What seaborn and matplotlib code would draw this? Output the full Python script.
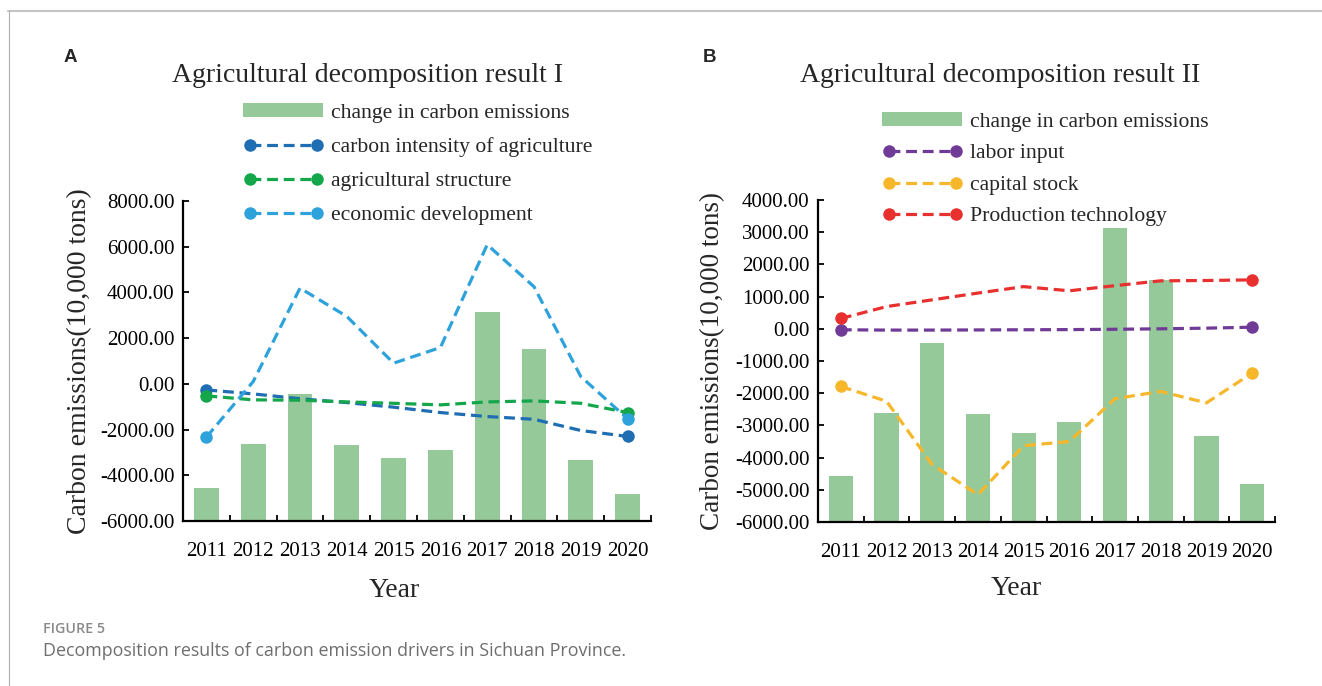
import matplotlib
matplotlib.use("Agg")
import numpy as np
import pandas as pd
import matplotlib.pyplot as plt
from matplotlib.lines import Line2D
from matplotlib.ticker import MultipleLocator, StrMethodFormatter, FixedLocator
import seaborn as sns

# ---- data (10,000 tons) ----
years = ["2011", "2012", "2013", "2014", "2015", "2016", "2017", "2018", "2019", "2020"]
change_in_emissions = [-4560, -2630, -445, -2660, -3245, -2900, 3145, 1510, -3320, -4815]

carbon_intensity = [-265, -440, -650, -820, -1020, -1255, -1430, -1550, -2040, -2300]
agri_structure = [-525, -700, -715, -790, -850, -920, -790, -745, -850, -1255]
economic_dev = [-2330, 100, 4190, 2950, 905, 1590, 6090, 4250, 320, -1530]

labor_input = [-30, -40, -40, -35, -30, -25, -15, 0, 20, 50]
capital_stock = [-1790, -2250, -4220, -5150, -3630, -3500, -2170, -1945, -2300, -1375]
production_tech = [320, 690, 900, 1110, 1310, 1180, 1340, 1490, 1500, 1520]

bar_label = "change in carbon emissions"
panel_a_lines = [
    ("carbon intensity of agriculture", carbon_intensity, "#1f6db3"),
    ("agricultural structure", agri_structure, "#13a64b"),
    ("economic development", economic_dev, "#2ea2da"),
]
panel_b_lines = [
    ("labor input", labor_input, "#703a97"),
    ("capital stock", capital_stock, "#f6b72b"),
    ("Production technology", production_tech, "#e8302f"),
]

BAR_COLOR = "#96c99a"
SERIF = "Liberation Serif"

sns.set_theme(style="white")
plt.rcParams["font.family"] = [SERIF, "DejaVu Serif"]
plt.rcParams["axes.edgecolor"] = "black"
plt.rcParams["axes.unicode_minus"] = False
plt.rcParams["xtick.color"] = "black"
plt.rcParams["ytick.color"] = "black"

fig = plt.figure(figsize=(13.22, 6.86), dpi=100)
ax_a = fig.add_axes([183 / 1322, 1 - 521 / 686, 468 / 1322, 320 / 686])
ax_b = fig.add_axes([818 / 1322, 1 - 522 / 686, 457 / 1322, 322 / 686])


def draw_panel(ax, floor, top, step, lines, legend_anchor, labelspacing,
               ylabel_x, xlabel_xy, ylabel_size):
    # bars rise from the bottom of the value axis
    df = pd.DataFrame({"year": years, "value": change_in_emissions})
    df["height"] = df["value"] - floor
    sns.barplot(data=df, x="year", y="height", bottom=floor, color=BAR_COLOR,
                width=0.53, linewidth=0, saturation=1, errorbar=None,
                label=bar_label, ax=ax)
    for name, vals, color in lines:
        ldf = pd.DataFrame({"year": years, "value": vals})
        sns.lineplot(data=ldf, x="year", y="value", color=color, lw=2.3,
                     linestyle=(0, (3.4, 1.8)), marker="o", markersize=9,
                     markeredgewidth=0, markevery=[0, -1], label=name,
                     ax=ax, legend=False)

    ax.set_ylim(floor, top)
    ax.set_xlim(-0.5, len(years) - 0.5)
    ax.yaxis.set_major_locator(MultipleLocator(step))
    ax.yaxis.set_major_formatter(StrMethodFormatter("{x:.2f}"))
    ax.xaxis.set_minor_locator(FixedLocator(np.arange(-0.5, len(years), 1.0)))

    for side in ("top", "right"):
        ax.spines[side].set_visible(False)
    for side in ("left", "bottom"):
        ax.spines[side].set_linewidth(1.6)
        ax.spines[side].set_color("black")

    ax.tick_params(axis="y", which="major", direction="in", length=4.5, width=1.3,
                   pad=6, labelsize=15, left=True)
    ax.tick_params(axis="x", which="major", length=0, pad=15, labelsize=15,
                   bottom=True)
    ax.tick_params(axis="x", which="minor", direction="in", length=4.5,
                   width=1.3, bottom=True)

    ax.set_ylabel("Carbon emissions(10,000 tons)", fontsize=ylabel_size)
    ax.yaxis.label.set_va("center")
    ax.yaxis.set_label_coords(ylabel_x, 0.5)
    ax.set_xlabel("Year", fontsize=20)
    ax.xaxis.label.set_va("center")
    ax.xaxis.set_label_coords(*xlabel_xy)

    handles, labels = ax.get_legend_handles_labels()
    lookup = dict(zip(labels, handles))
    order = [bar_label] + [name for name, _, _ in lines]
    ax.legend([lookup[k] for k in order], order, loc="upper left",
              bbox_to_anchor=legend_anchor, bbox_transform=fig.transFigure,
              frameon=False, fontsize=15.6, borderpad=0, borderaxespad=0,
              handlelength=3.7, handleheight=0.55, handletextpad=0.35,
              numpoints=2, labelspacing=labelspacing)


draw_panel(ax_a, -6000, 8000, 2000, panel_a_lines,
           (243 / 1322, 1 - 103.5 / 686), 0.68, -0.220, (0.452, -0.216), 20)
draw_panel(ax_b, -6000, 4000, 1000, panel_b_lines,
           (882 / 1322, 1 - 112.5 / 686), 0.57, -0.231, (0.433, -0.205), 19.5)

# titles and panel letters
fig.text(367 / 1322, 1 - 76 / 686, "Agricultural decomposition result I",
         fontsize=20, ha="center", va="center")
fig.text(1000 / 1322, 1 - 76 / 686, "Agricultural decomposition result II",
         fontsize=20, ha="center", va="center")
fig.text(70 / 1322, 1 - 57.5 / 686, "A", fontsize=13.5, fontweight="bold",
         family="Liberation Sans", ha="center", va="center")
fig.text(709 / 1322, 1 - 57.5 / 686, "B", fontsize=13.5, fontweight="bold",
         family="Liberation Sans", ha="center", va="center")

# caption
fig.text(43 / 1322, 1 - 633 / 686, "FIGURE 5", fontsize=10.3, fontweight="semibold",
         family="Open Sans", color="#8a8a8a", ha="left", va="baseline")
fig.text(43 / 1322, 1 - 656 / 686,
         "Decomposition results of carbon emission drivers in Sichuan Province.",
         fontsize=12.9, family="Open Sans", color="#6e6e6e", ha="left", va="baseline")

# page frame
fig.add_artist(Line2D([8 / 1322, 1], [1 - 11 / 686, 1 - 11 / 686],
                      transform=fig.transFigure, color="#c4c4c4", lw=1.5))
fig.add_artist(Line2D([8.5 / 1322, 8.5 / 1322], [0, 1 - 11 / 686],
                      transform=fig.transFigure, color="#b0b0b0", lw=0.8))

fig.savefig("out.png", dpi=100)
